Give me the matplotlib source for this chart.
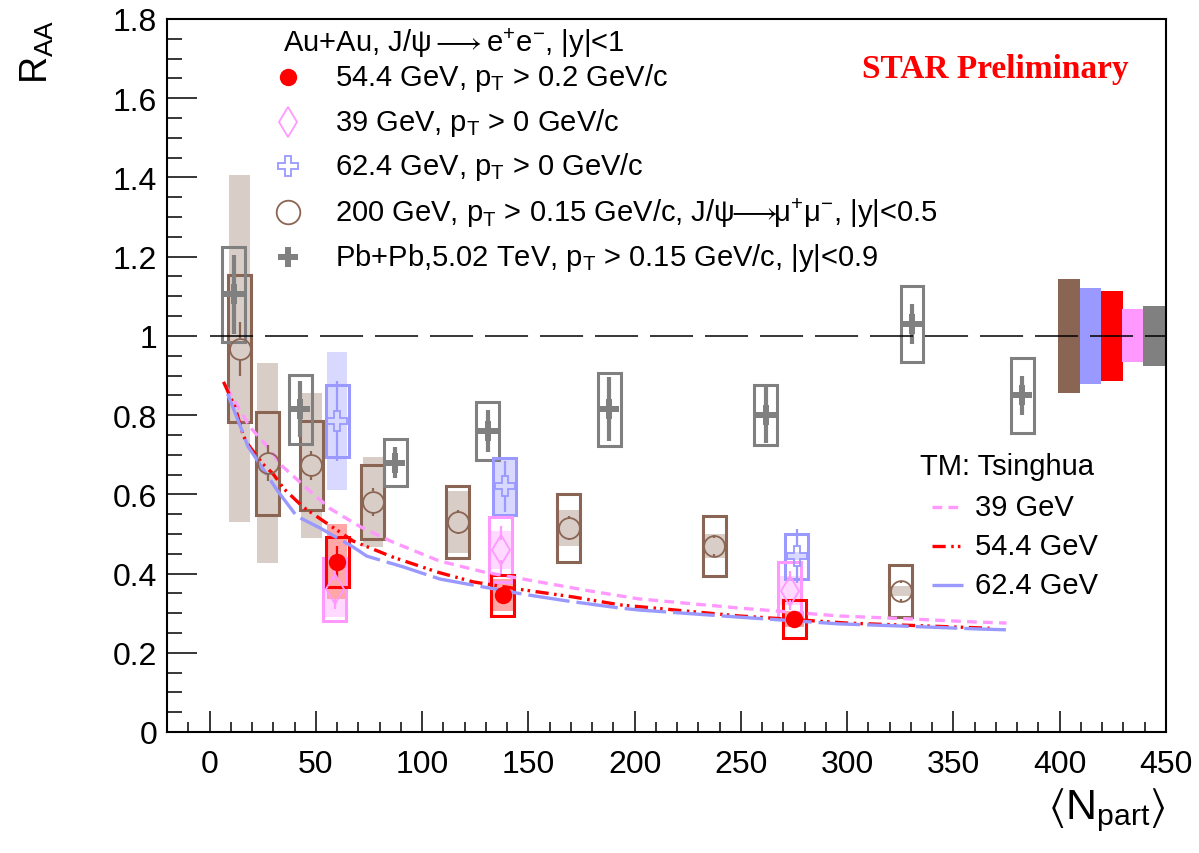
import numpy as np
import matplotlib
matplotlib.use("Agg")
import matplotlib.pyplot as plt
from matplotlib.ticker import MultipleLocator, FuncFormatter

plt.rcParams['font.family'] = ['Liberation Sans', 'DejaVu Sans']
plt.rcParams['mathtext.fontset'] = 'custom'
plt.rcParams['mathtext.rm'] = 'Liberation Sans'
plt.rcParams['mathtext.it'] = 'Liberation Sans:italic'
plt.rcParams['mathtext.fallback'] = 'stixsans'
plt.rcParams['lines.scale_dashes'] = False

## Au+Au 54.4 GeV (J/psi -> ee)
npart_544 = [60.0, 137.9, 275.0]
raa_544 = [0.43, 0.345, 0.285]
stat_544 = [0.04, 0.02, 0.02]
sys_544 = [0.063, 0.052, 0.047]
glob_544 = [0.095, 0.04, 0.02]

## Au+Au 39 GeV
npart_39 = [59.0, 137.1, 272.9]
raa_39 = [0.36, 0.46, 0.357]
stat_39 = [0.05, 0.06, 0.05]
sys_39 = [0.079, 0.082, 0.072]
glob_39 = [0.07, 0.048, 0.036]

## Au+Au 62.4 GeV
npart_624 = [60.0, 139.0, 276.3]
raa_624 = [0.785, 0.62, 0.444]
stat_624 = [0.10, 0.065, 0.068]
sys_624 = [0.091, 0.071, 0.057]
glob_624 = [0.175, 0.07, 0.01]

## Au+Au 200 GeV (J/psi -> mumu)
npart_200 = [14.3, 27.3, 47.8, 76.9, 116.7, 169.1, 237.4, 325.3]
raa_200 = [0.968, 0.679, 0.673, 0.581, 0.53, 0.515, 0.47, 0.356]
stat_200 = [0.068, 0.045, 0.037, 0.035, 0.03, 0.03, 0.02, 0.02]
sys_200 = [0.185, 0.13, 0.112, 0.094, 0.09, 0.086, 0.076, 0.066]
glob_200 = [0.438, 0.253, 0.184, 0.114, 0.078, 0.045, 0.03, 0.012]

## Pb+Pb 5.02 TeV
npart_pbpb = [11.3, 42.6, 87.3, 130.8, 188.0, 261.8, 330.5, 382.3]
raa_pbpb = [1.105, 0.815, 0.68, 0.76, 0.815, 0.80, 1.03, 0.85]
stat_pbpb = [0.10, 0.07, 0.04, 0.052, 0.08, 0.07, 0.05, 0.05]
sys_pbpb = [0.12, 0.087, 0.06, 0.074, 0.092, 0.076, 0.097, 0.095]

## global uncertainties at unity (200, 62.4, 54.4, 39 GeV, 5.02 TeV)
glob_unc = [0.144, 0.122, 0.113, 0.067, 0.076]

## TM Tsinghua
tm_39_x = [8, 19, 29, 33, 46, 57, 71, 86, 108, 129, 155, 179, 202, 249, 296, 331, 359, 375]
tm_39_y = [0.87, 0.77, 0.71, 0.677, 0.614, 0.563, 0.518, 0.48, 0.432, 0.404, 0.379,
           0.356, 0.336, 0.313, 0.293, 0.285, 0.278, 0.275]
tm_544_x = [6.6, 12, 16, 18, 25, 30, 35, 44, 53.5, 67.6, 86, 107, 124, 147.5, 171, 193,
            249, 300, 351, 367]
tm_544_y = [0.884, 0.82, 0.747, 0.727, 0.677, 0.651, 0.614, 0.568, 0.533, 0.482, 0.442,
            0.404, 0.379, 0.359, 0.341, 0.321, 0.293, 0.275, 0.265, 0.262]
tm_624_x = [8.5, 15.5, 18, 32, 41, 52, 67.6, 74, 91, 108.5, 129, 147.5, 168, 193, 202,
            249, 296, 323, 362, 375]
tm_624_y = [0.854, 0.758, 0.722, 0.609, 0.545, 0.515, 0.467, 0.444, 0.417, 0.386, 0.366,
            0.348, 0.331, 0.313, 0.308, 0.29, 0.273, 0.268, 0.26, 0.258]

c_red = '#ff0000'
c_pink = '#ff99ff'
c_blue = '#9999ff'
c_brown = '#8b6553'
c_gray = '#808080'

fig = plt.figure(figsize=(11.99, 8.54), dpi=100)
ax = fig.add_axes([167/1199, 121/854, 999/1199, 713/854])
ax.set_xlim(-20, 450)
ax.set_ylim(0, 1.8)

HW = 5.4   # half width of open systematic boxes
HWS = 4.9  # half width of shaded boxes


def shaded(x, y, dy, color):
    y = np.asarray(y); dy = np.asarray(dy)
    ax.bar(x, 2*dy, bottom=y-dy, width=2*HWS, color=color, linewidth=0, zorder=1)


def openbox(x, y, dy, color):
    y = np.asarray(y); dy = np.asarray(dy)
    ax.bar(x, 2*dy, bottom=y-dy, width=2*HW, facecolor='none', edgecolor=color,
           linewidth=2.2, zorder=3)


def staterr(x, y, dy, color, lw, gap=0.0):
    # ROOT style: bar stops at the marker edge for hollow markers
    y = np.asarray(y); dy = np.asarray(dy)
    ax.vlines(x, y+gap, y+dy, color=color, linewidth=lw, zorder=5)
    ax.vlines(x, y-dy, y-gap, color=color, linewidth=lw, zorder=5)


# shaded boxes
shaded(npart_200, raa_200, glob_200, '#d9cdc7')
shaded(npart_624, raa_624, glob_624, '#d9d9ff')
shaded(npart_39, raa_39, glob_39, '#ffd9ff')
shaded(npart_544, raa_544, glob_544, '#ffa6a6')

# open boxes
openbox(npart_200, raa_200, sys_200, c_brown)
openbox(npart_pbpb, raa_pbpb, sys_pbpb, c_gray)
openbox(npart_624, raa_624, sys_624, c_blue)
openbox(npart_39, raa_39, sys_39, c_pink)
openbox(npart_544, raa_544, sys_544, c_red)

# global uncertainty boxes at unity
glob_x = [404.5, 414.5, 424.5, 434.5, 444.5]
glob_col = [c_brown, c_blue, c_red, c_pink, c_gray]
ax.bar(glob_x, 2*np.array(glob_unc), bottom=1-np.array(glob_unc), width=10.2,
       color=glob_col, linewidth=0, zorder=2)
ax.plot([0, 450], [1, 1], color='black', linewidth=1.1, dashes=(31, 8.6), zorder=6)

# model curves
ax.plot(tm_39_x, tm_39_y, color=c_pink, linewidth=2.4, dashes=(7, 4.5), zorder=4)
ax.plot(tm_544_x, tm_544_y, color=c_red, linewidth=2.4, dashes=(9.5, 4, 1.8, 3, 1.8, 4), zorder=4)
ax.plot(tm_624_x, tm_624_y, color=c_blue, linewidth=2.4, dashes=(30, 5), zorder=4)

# pixels per unit in y, for the hollow marker gaps
ppu = ax.transData.transform((0, 1))[1] - ax.transData.transform((0, 0))[1]
pt2px = fig.dpi / 72.0

# data points
staterr(npart_pbpb, raa_pbpb, stat_pbpb, c_gray, 3.0)
ax.plot(npart_pbpb, raa_pbpb, 'P', color=c_gray, markersize=14, markeredgewidth=0, zorder=6)

staterr(npart_200, raa_200, stat_200, c_brown, 1.6, gap=7.5*pt2px/ppu)
ax.plot(npart_200, raa_200, 'o', markerfacecolor='none', markeredgecolor=c_brown,
        markersize=15, markeredgewidth=1.3, zorder=6)

staterr(npart_624, raa_624, stat_624, c_blue, 1.6, gap=7*pt2px/ppu)
ax.plot(npart_624, raa_624, 'P', markerfacecolor='none', markeredgecolor=c_blue,
        markersize=15, markeredgewidth=1.3, zorder=6)

staterr(npart_39, raa_39, stat_39, c_pink, 1.6, gap=7*pt2px/ppu)
ax.plot(npart_39, raa_39, 'd', markerfacecolor='none', markeredgecolor=c_pink,
        markersize=15, markeredgewidth=1.3, zorder=6)

staterr(npart_544, raa_544, stat_544, c_red, 1.6)
ax.plot(npart_544, raa_544, 'o', color=c_red, markersize=12.5, markeredgewidth=0, zorder=7)

# axes styling
ax.xaxis.set_major_locator(MultipleLocator(50))
ax.xaxis.set_minor_locator(MultipleLocator(10))
ax.yaxis.set_major_locator(MultipleLocator(0.2))
ax.yaxis.set_minor_locator(MultipleLocator(0.05))
ax.yaxis.set_major_formatter(FuncFormatter(lambda v, p: '%g' % round(v, 2)))
ax.tick_params(axis='both', which='both', direction='in', top=False, right=False,
               labelsize=23, width=1.1)
ax.tick_params(axis='y', which='major', length=21.5, pad=7)
ax.tick_params(axis='y', which='minor', length=10.8)
ax.tick_params(axis='x', which='major', length=15, pad=12)
ax.tick_params(axis='x', which='minor', length=7.5)
for s in ax.spines.values():
    s.set_linewidth(1.5)

ax.text(-0.13, 1.0, r'R$_{\rm AA}$', transform=ax.transAxes, rotation=90,
        ha='center', va='top', fontsize=27)
ax.text(1.0, -0.075, r'$\left\langle \mathrm{N}_{\mathrm{part}} \right\rangle$',
        transform=ax.transAxes, ha='right', va='top', fontsize=31)

ax.text(0.829, 0.93, 'STAR Preliminary', transform=ax.transAxes, color=c_red,
        fontsize=24, fontweight='bold', family='Liberation Serif', ha='center', va='center')

# data legend
fs = 21
ax.text(0.116, 0.968, r'Au+Au, J/ψ$\longrightarrow$e$^{+}$e$^{-}$, |y|<1',
        transform=ax.transAxes, fontsize=fs, va='center', ha='left')
rows = [0.919, 0.856, 0.794, 0.729, 0.666]
labels = [r'54.4 GeV, p$_{\rm T}$ > 0.2 GeV/c',
          r'39 GeV, p$_{\rm T}$ > 0 GeV/c',
          r'62.4 GeV, p$_{\rm T}$ > 0 GeV/c',
          r'200 GeV, p$_{\rm T}$ > 0.15 GeV/c, J/ψ$\!\!\longrightarrow\!\!$μ$^{+}$μ$^{-}$, |y|<0.5',
          r'Pb+Pb,5.02 TeV, p$_{\rm T}$ > 0.15 GeV/c, |y|<0.9']
mk = [dict(marker='o', color=c_red, markersize=12.5, markeredgewidth=0),
      dict(marker='d', markerfacecolor='none', markeredgecolor=c_pink, markersize=15, markeredgewidth=1.3),
      dict(marker='P', markerfacecolor='none', markeredgecolor=c_blue, markersize=15, markeredgewidth=1.3),
      dict(marker='o', markerfacecolor='none', markeredgecolor=c_brown, markersize=17, markeredgewidth=1.3),
      dict(marker='P', color=c_gray, markersize=14, markeredgewidth=0)]
for ry, lab, m in zip(rows, labels, mk):
    ax.plot([0.121], [ry], transform=ax.transAxes, linestyle='none', clip_on=False, zorder=8, **m)
    ax.text(0.168, ry, lab, transform=ax.transAxes, fontsize=fs, va='center', ha='left')

# model legend
ax.text(0.754, 0.373, 'TM: Tsinghua', transform=ax.transAxes, fontsize=fs, va='center', ha='left')
tm_rows = [0.316, 0.261, 0.206]
tm_labels = ['39 GeV', '54.4 GeV', '62.4 GeV']
tm_styles = [(c_pink, (7, 4.5)), (c_red, (9.5, 4, 1.8, 3, 1.8, 4)), (c_blue, (30, 5))]
for ry, lab, (c, d) in zip(tm_rows, tm_labels, tm_styles):
    ax.plot([0.766, 0.797], [ry, ry], transform=ax.transAxes, color=c, linewidth=2.4, dashes=d)
    ax.text(0.809, ry, lab, transform=ax.transAxes, fontsize=fs, va='center', ha='left')

fig.savefig('out.png', dpi=100)
